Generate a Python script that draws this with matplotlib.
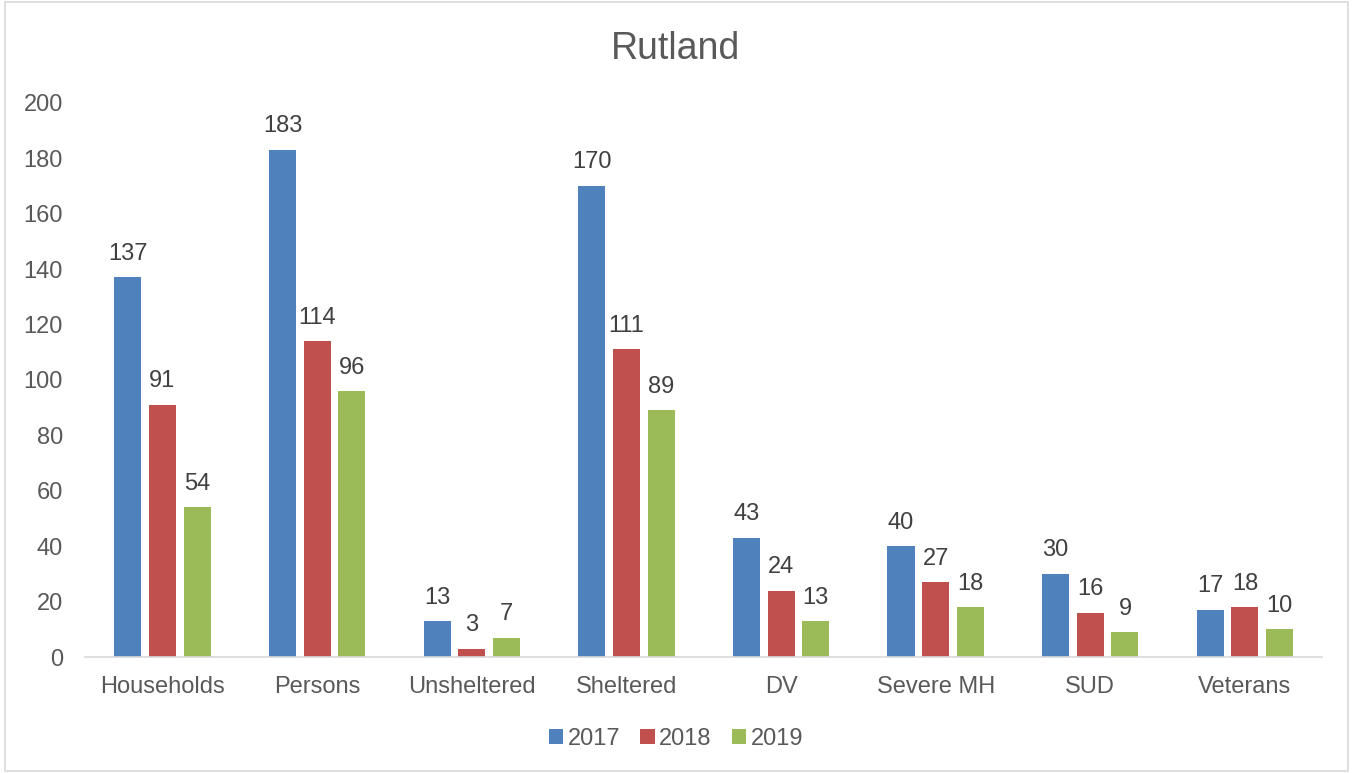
import numpy as np
import matplotlib.pyplot as plt
from matplotlib.patches import Rectangle

categories = ['Households', 'Persons', 'Unsheltered', 'Sheltered', 'DV',
              'Severe MH', 'SUD', 'Veterans']
years = ['2017', '2018', '2019']
vals_2017 = [137, 183, 13, 170, 43, 40, 30, 17]
vals_2018 = [91, 114, 3, 111, 24, 27, 16, 18]
vals_2019 = [54, 96, 7, 89, 13, 18, 9, 10]
colors = ['#4F81BD', '#C0504D', '#9BBB59']

plt.rcParams['font.family'] = ['Liberation Sans', 'DejaVu Sans']
txt = '#595959'

fig = plt.figure(figsize=(13.52, 7.73), dpi=100)
ax = fig.add_axes([0.063, 0.150, 0.915, 0.717])

x = np.arange(len(categories))
width = 0.175
step = 0.224
for i, (vals, yr) in enumerate(zip([vals_2017, vals_2018, vals_2019], years)):
    bars = ax.bar(x + (i - 1) * step, vals, width, color=colors[i], label=yr)
    for b, v in zip(bars, vals):
        ax.annotate(str(v), (b.get_x() + b.get_width() / 2, v),
                    xytext=(0, 9), textcoords='offset points', ha='center',
                    va='bottom', fontsize=17, color='#404040')

ax.set_xlim(-0.5, len(categories) - 0.5)
ax.set_ylim(0, 200)
ax.set_yticks(range(0, 201, 20))
ax.set_xticks(x)
ax.set_xticklabels(categories)
ax.tick_params(axis='both', length=0, labelsize=17, labelcolor=txt)
ax.tick_params(axis='x', pad=14)
ax.tick_params(axis='y', pad=16)
for s in ['top', 'right', 'left']:
    ax.spines[s].set_visible(False)
ax.spines['bottom'].set_color('#D9D9D9')
ax.spines['bottom'].set_linewidth(1.2)

fig.text(0.5, 0.937, 'Rutland', ha='center', va='center', fontsize=27,
         color=txt)

leg = fig.legend(loc='center', bbox_to_anchor=(0.5, 0.044), ncol=3,
                 frameon=False, fontsize=17, handlelength=0.6,
                 handleheight=0.6, handletextpad=0.2, columnspacing=0.85)
for t in leg.get_texts():
    t.set_color(txt)

fig.patches.append(Rectangle((0.004, 0.003), 0.993, 0.994,
                             transform=fig.transFigure, fill=False,
                             edgecolor='#D9D9D9', linewidth=1.2))

fig.savefig('out.png', dpi=100)
